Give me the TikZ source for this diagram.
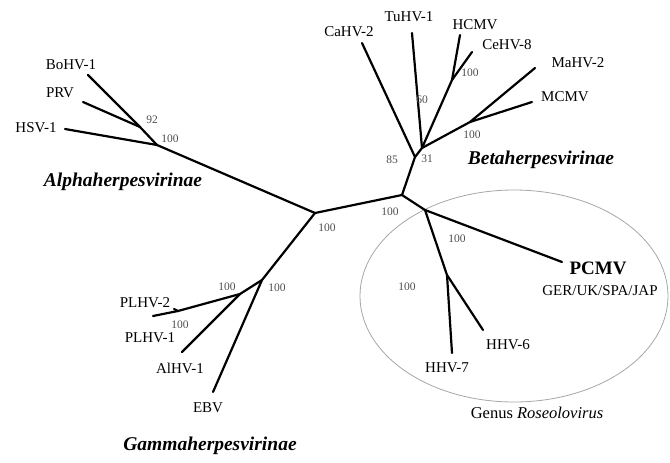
\documentclass[tikz,border=0pt]{standalone}
\usepackage{fontspec}
\setmainfont{Liberation Serif}
\usetikzlibrary{positioning}
\tikzset{branch/.style = {line width=2.2pt, line cap=round}}
\tikzset{taxon/.style = {font=\fontsize{15}{17}\selectfont, inner sep=0}}
\tikzset{boot/.style = {font=\fontsize{11.5}{12}\selectfont, inner sep=0, text=black!70}}
\tikzset{family/.style = {font=\fontsize{19.5}{21}\selectfont\bfseries\itshape, inner sep=0}}

\begin{document}
\begin{tikzpicture}[x=1pt, y=-1pt]
      \useasboundingbox (0,0) rectangle (670,463);
      % junctions
      \coordinate (root) at (315,213);
      \coordinate (a1) at (157,145);
      \coordinate (a2) at (140,127);
      \coordinate (b0) at (402,195);
      \coordinate (b1) at (415,157);
      \coordinate (b2) at (422,148);
      \coordinate (b3) at (452,80);
      \coordinate (b4) at (470,122);
      \coordinate (g1) at (262,280);
      \coordinate (g2) at (240,294);
      \coordinate (g3) at (178,311);
      \coordinate (r1) at (425,210);
      \coordinate (r2) at (447,275);
      % tips
      \coordinate (bohv) at (88,75);
      \coordinate (prv) at (83,102);
      \coordinate (hsv) at (65,129);
      \coordinate (cahv2) at (362,43);
      \coordinate (tuhv) at (412,33);
      \coordinate (hcmv) at (460,35);
      \coordinate (cahv8) at (472,52);
      \coordinate (mahv) at (535,68);
      \coordinate (mcmv) at (532,102);
      \coordinate (plhv2) at (174,309);
      \coordinate (plhv1) at (153,316);
      \coordinate (abhv) at (182,352);
      \coordinate (ebv) at (213,392);
      \coordinate (pcmv) at (562,262);
      \coordinate (hhv6) at (483,330);
      \coordinate (hhv7) at (452,353);
      \coordinate (rose) at (514,296);

      \draw [gray!70, line width=0.8pt] (rose) ellipse [x radius=154, y radius=106];

      \draw [branch] (root) -- (a1) -- (a2) -- (bohv);
      \draw [branch] (a2) -- (prv);
      \draw [branch] (a1) -- (hsv);
      \draw [branch] (root) -- (b0) -- (b1) -- (cahv2);
      \draw [branch] (b1) -- (b2) -- (tuhv);
      \draw [branch] (b2) -- (b3) -- (hcmv);
      \draw [branch] (b3) -- (cahv8);
      \draw [branch] (b2) -- (b4) -- (mahv);
      \draw [branch] (b4) -- (mcmv);
      \draw [branch] (root) -- (g1) -- (ebv);
      \draw [branch] (g1) -- (g2) -- (abhv);
      \draw [branch] (g2) -- (g3) -- (plhv2);
      \draw [branch] (g3) -- (plhv1);
      \draw [branch] (b0) -- (r1) -- (pcmv);
      \draw [branch] (r1) -- (r2) -- (hhv6);
      \draw [branch] (r2) -- (hhv7);

      % taxa
      \node [taxon] (n-bohv) at (71,65) {BoHV-1};
      \node [taxon] (n-prv) at (60,93) {PRV};
      \node [taxon] (n-hsv) at (36,128) {HSV-1};
      \node [taxon] (n-cahv2) at (349,32) {CaHV-2};
      \node [taxon] (n-tuhv) at (409,17) {TuHV-1};
      \node [taxon] (n-hcmv) at (475,25) {HCMV};
      \node [taxon] (n-cahv8) at (507,45) {CeHV-8};
      \node [taxon] (n-mahv) at (578,63) {MaHV-2};
      \node [taxon] (n-mcmv) at (565,97) {MCMV};
      \node [taxon] (n-plhv2) at (145,303) {PLHV-2};
      \node [taxon] (n-plhv1) at (150,338) {PLHV-1};
      \node [taxon] (n-abhv) at (180,368) {AlHV-1};
      \node [taxon] (n-ebv) at (208,408) {EBV};
      \node [taxon, font=\fontsize{19}{21}\selectfont\bfseries] (n-pcmv) at (598,268) {PCMV};
      \node [taxon] (n-strain) at (600,291) {GER/UK/SPA/JAP};
      \node [taxon] (n-hhv6) at (508,345) {HHV-6};
      \node [taxon] (n-hhv7) at (447,368) {HHV-7};

      % subfamilies
      \node [family] (alpha) at (123,182) {Alphaherpesvirinae};
      \node [family] (beta) at (541,160) {Betaherpesvirinae};
      \node [family] (gamma) at (210,446) {Gammaherpesvirinae};
      \node [taxon, font=\fontsize{16.5}{18}\selectfont\itshape] (genus) at (537,413) {\upshape Genus \itshape Roseolovirus};

      % bootstrap values
      \node [boot] (v-a2) at (152,120) {92};
      \node [boot] (v-a1) at (170,139) {100};
      \node [boot] (v-b3) at (470,73) {100};
      \node [boot] (v-tu) at (422,100) {60};
      \node [boot] (v-b4) at (472,135) {100};
      \node [boot] (v-b1) at (392,160) {85};
      \node [boot] (v-b2) at (427,159) {31};
      \node [boot] (v-root) at (327,228) {100};
      \node [boot] (v-b0) at (390,212) {100};
      \node [boot] (v-g1) at (277,288) {100};
      \node [boot] (v-g2) at (227,287) {100};
      \node [boot] (v-g3) at (180,325) {100};
      \node [boot] (v-r1) at (457,239) {100};
      \node [boot] (v-r2) at (407,287) {100};
    \end{tikzpicture}
\end{document}
